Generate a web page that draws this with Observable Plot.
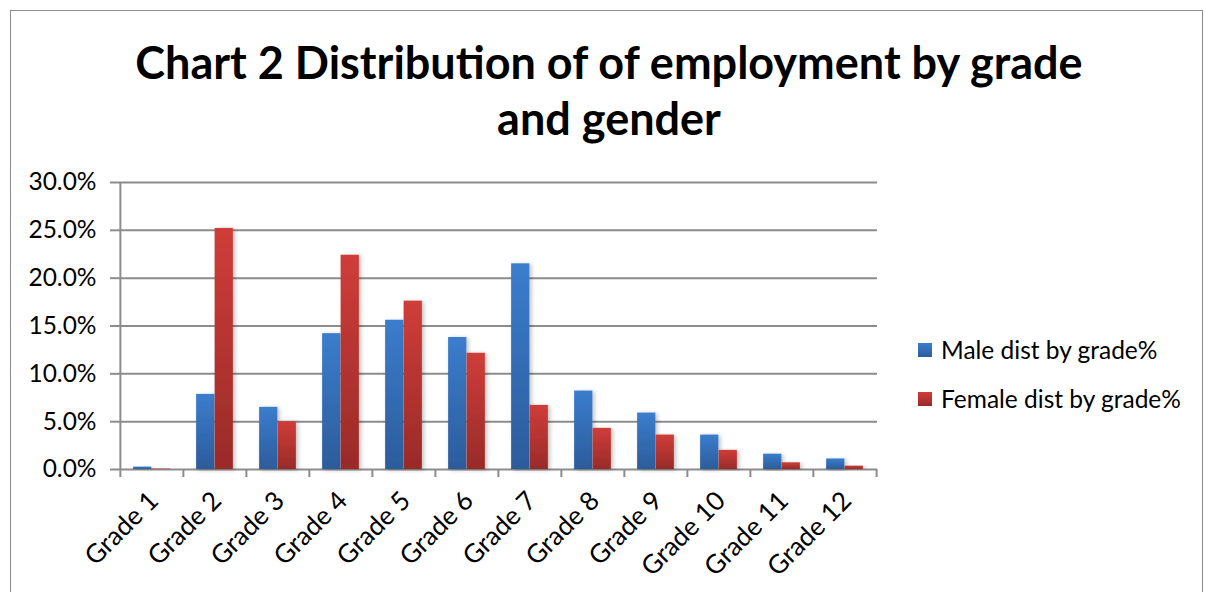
<!DOCTYPE html>
<html><head><meta charset="utf-8">
<script src="https://cdn.jsdelivr.net/npm/d3@7"></script>
<script src="https://cdn.jsdelivr.net/npm/@observablehq/plot@0.6"></script>
<style>
  html,body{margin:0;padding:0;background:#fff;}
  #wrap{position:relative;width:1205px;height:592px;overflow:hidden;font-family:Lato,"Noto Sans",sans-serif;}
  #frame{position:absolute;left:10px;top:10px;width:1193px;height:620px;border:1px solid #8c8c8c;box-sizing:border-box;}
  #title{position:absolute;left:0;top:34px;width:1218px;text-align:center;font-weight:bold;font-size:45px;line-height:56px;color:#000;}
  #chart{position:absolute;left:0;top:160px;}
  #chart svg text{font-family:Lato,"Noto Sans",sans-serif;}
  #legend{position:absolute;left:918px;top:325px;font-size:24.5px;color:#000;}
  .item{display:flex;align-items:center;height:49px;}
  .sw{width:14px;height:14px;margin-right:9px;}
</style></head>
<body>
<div id="wrap">
  <div id="frame"></div>
  <div id="title">Chart 2 Distribution of of employment by grade<br>and gender</div>
  <div id="chart"></div>
  <div id="legend"></div>
</div>
<script>
const grades = ["Grade 1","Grade 2","Grade 3","Grade 4","Grade 5","Grade 6","Grade 7","Grade 8","Grade 9","Grade 10","Grade 11","Grade 12"];
const series = ["Male dist by grade%","Female dist by grade%"];
const male   = [0.25, 7.85, 6.5, 14.2, 15.6, 13.8, 21.5, 8.2, 5.9, 3.6, 1.6, 1.1];
const female = [0.05, 25.2, 5.0, 22.4, 17.6, 12.15, 6.7, 4.3, 3.6, 2.0, 0.7, 0.35];
const yTicks = [0, 5, 10, 15, 20, 25, 30];

const rows = grades.flatMap((g, i) => [
  {grade: g, series: series[0], value: male[i]},
  {grade: g, series: series[1], value: female[i]}
]);

const W = 1205, H = 432, mL = 118, mR = 328, mT = 22, mB = 123;
const band = (W - mL - mR) / grades.length;
const barW = 18.5;
const gray = "#8c8c8c";

function defs() {
  const ns = "http://www.w3.org/2000/svg";
  const d = document.createElementNS(ns, "defs");
  const mk = (id, top, bottom) => {
    const lg = document.createElementNS(ns, "linearGradient");
    lg.setAttribute("id", id);
    lg.setAttribute("x1", "0"); lg.setAttribute("y1", "0");
    lg.setAttribute("x2", "0"); lg.setAttribute("y2", "1");
    [[0, top], [1, bottom]].forEach(([o, c]) => {
      const s = document.createElementNS(ns, "stop");
      s.setAttribute("offset", o); s.setAttribute("stop-color", c);
      lg.appendChild(s);
    });
    d.appendChild(lg);
  };
  mk("gMale", "#3b7dcd", "#2c5c9b");
  mk("gFemale", "#cf3d39", "#992b28");
  const f = document.createElementNS(ns, "filter");
  f.setAttribute("id", "shadow");
  f.setAttribute("x", "-20%"); f.setAttribute("y", "-5%");
  f.setAttribute("width", "150%"); f.setAttribute("height", "115%");
  f.innerHTML = '<feDropShadow dx="2" dy="1" stdDeviation="2" flood-color="#000" flood-opacity="0.25"/>';
  d.appendChild(f);
  return d;
}

const chart = Plot.plot({
  width: W, height: H,
  marginLeft: mL, marginRight: mR, marginTop: mT, marginBottom: mB,
  x: {type: "band", domain: grades, padding: 0, axis: null, label: null},
  y: {domain: d3.extent(yTicks), axis: null, label: null},
  marks: [
    defs,
    Plot.ruleY(yTicks, {y: d => d, stroke: gray, strokeWidth: 2}),
    Plot.ruleX([grades[0]], {x: d => d, y1: yTicks[0], y2: yTicks[yTicks.length - 1], dx: -band / 2, stroke: gray, strokeWidth: 2}),
    Plot.axisY(yTicks, {label: null, tickSize: 8, tickPadding: 14, tickFormat: d => d.toFixed(1) + "%", fontSize: 24.5, stroke: gray, strokeWidth: 2, fill: "#000"}),
    Plot.axisX(grades, {label: null, tickSize: 8, tickFormat: () => "", dx: -band / 2, stroke: gray, strokeWidth: 2}),
    Plot.axisX([grades[grades.length - 1]], {label: null, tickSize: 8, tickFormat: () => "", dx: band / 2, stroke: gray, strokeWidth: 2}),
    Plot.barY(rows.filter(r => r.series === series[0]), {x: "grade", y: "value", fill: "url(#gMale)", insetLeft: band / 2 - barW, insetRight: band / 2}),
    Plot.barY(rows.filter(r => r.series === series[1]), {x: "grade", y: "value", fill: "url(#gFemale)", insetLeft: band / 2, insetRight: band / 2 - barW}),
    Plot.axisX(grades, {label: null, tickSize: 0, tickPadding: 27, tickRotate: -45, fontSize: 26, fill: "#000", dx: 2})
  ]
});
chart.querySelectorAll("rect").forEach(r => r.setAttribute("filter", "url(#shadow)"));
document.getElementById("chart").appendChild(chart);

const legend = document.getElementById("legend");
series.forEach((s, i) => {
  const it = document.createElement("div");
  it.className = "item";
  const sw = document.createElement("div");
  sw.className = "sw";
  sw.style.background = i === 0 ? "linear-gradient(#3b7dcd,#2c5c9b)" : "linear-gradient(#cf3d39,#992b28)";
  const t = document.createElement("span");
  t.textContent = s;
  it.appendChild(sw); it.appendChild(t);
  legend.appendChild(it);
});
</script>
</body></html>
